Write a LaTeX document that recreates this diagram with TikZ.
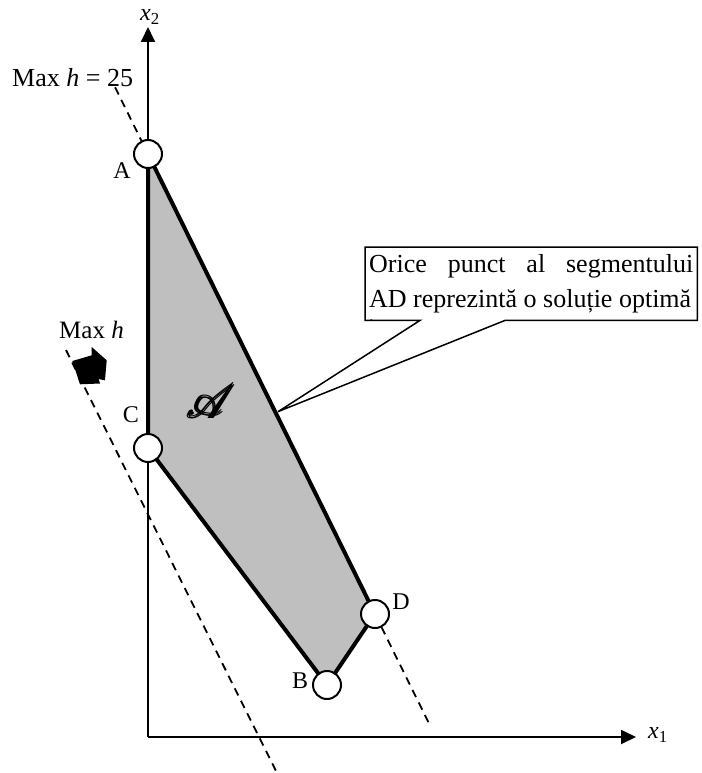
\documentclass[tikz,border=0pt]{standalone}
\usepackage{fontspec}
\setmainfont{Liberation Serif}
\usepackage{amsmath}
\usepackage{mathrsfs}
\usetikzlibrary{arrows.meta,calc}

\begin{document}
\begin{tikzpicture}[
    x=1pt, y=-1pt,
    lbl/.style={font=\fontsize{24}{28}\selectfont, inner sep=0pt},
    vertex/.style={circle, draw, line width=2pt, fill=white, minimum size=28pt, inner sep=0pt},
    axis/.style={line width=1.8pt, -{Triangle[length=15pt,width=14pt]}},
    level/.style={line width=1.8pt, dash pattern=on 8pt off 6pt},
    edge/.style={line width=4pt, line join=round}
]
\useasboundingbox (0,0) rectangle (701,773);

% corners of the feasible region
\coordinate (A) at (148,154);
\coordinate (C) at (148,448);
\coordinate (B) at (327,685);
\coordinate (D) at (375,614);
\coordinate (O) at (148,737);
\coordinate (x2end) at (148,27);
\coordinate (x1end) at (636,737);

\fill[black!25] (A) -- (D) -- (B) -- (C) -- cycle;

% axes
\draw[axis] (O) -- (x2end);
\draw[axis] (O) -- (x1end);
\node[lbl] (x2lab) at (150,17) {\textit{x}\textsubscript{2}};
\node[lbl] (x1lab) at (658,735) {\textit{x}\textsubscript{1}};

% level lines of h
\coordinate (opt1) at ($(A)!-0.145!(D)$);
\coordinate (opt2) at ($(A)!1.235!(D)$);
\coordinate (lev1) at (66,350);
\coordinate (lev2) at (277,773);
\draw[level] (opt1) -- (opt2);
\draw[level] (lev1) -- (lev2);
\node[lbl, anchor=base west, font=\fontsize{26}{30}\selectfont] (hopt) at (12,87) {Max \textit{h} = 25};
\node[lbl, anchor=base west, font=\fontsize{25}{30}\selectfont] (hmax) at (59,338) {Max \textit{h}};
\fill (72.3,361) -- (91.7,355.3) -- (91.7,347) -- (106.7,360.3) -- (105,380.3)
    -- (98.5,379) -- (100,383.5) -- (80,384.3) -- cycle;

\draw[edge] (A) -- (D) -- (B) -- (C) -- cycle;

\node[vertex] (a) at (A) {};
\node[vertex] (c) at (C) {};
\node[vertex] (b) at (B) {};
\node[vertex] (d) at (D) {};
\node[lbl] (alab) at (122,171) {A};
\node[lbl] (clab) at (131,415) {C};
\node[lbl] (blab) at (300,681) {B};
\node[lbl] (dlab) at (401,602) {D};
\node[lbl] (region) at (212,401) {\scalebox{1.9}{$\pmb{\mathscr{A}}$}};

% callout
\node[anchor=north west, text width=324pt, inner xsep=4pt, inner ysep=0pt, minimum height=73pt,
      align=justify, font=\fontsize{26}{35}\selectfont] (note) at (365,247)
    {Orice punct al segmentului\linebreak AD reprezintă o soluție optimă};
\begin{scope}
\clip (note.north west) rectangle (note.south east);
\node[anchor=base west, inner sep=0pt, font=\fontsize{26}{30}\selectfont] (stray) at (368,322) {.};
\end{scope}
\coordinate (tip) at ($(A)!0.56!(D)+(3,0)$);
\coordinate (pb1) at ($(note.south west)+(55,0)$);
\coordinate (pb2) at ($(note.south west)+(140,0)$);
\draw[line width=1.5pt, line join=miter] (note.north west) -- (note.north east) -- (note.south east)
    -- (pb2) -- (tip) -- (pb1) -- (note.south west) -- cycle;
\end{tikzpicture}
\end{document}
